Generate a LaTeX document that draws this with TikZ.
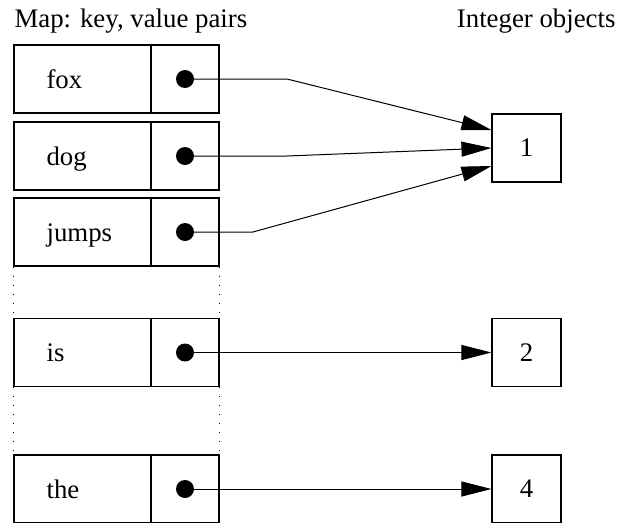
\documentclass[tikz,border=0pt]{standalone}
\usepackage{fontspec}
\setmainfont{Liberation Serif}
\usetikzlibrary{arrows.meta,calc}
\begin{document}
\begin{tikzpicture}[x=1pt,y=-1pt,line width=1.1pt,
  txt/.style={font=\fontsize{26.8}{30}\selectfont, inner sep=0pt},
  keybox/.style={draw, minimum width=137pt, minimum height=68pt, inner sep=0pt},
  valbox/.style={draw, minimum width=68pt, minimum height=68pt, inner sep=0pt},
  intbox/.style={draw, minimum width=69pt, minimum height=68pt, inner sep=0pt, txt},
  keytext/.style={txt, anchor=base west},
  ptr/.style={circle, fill, inner sep=0pt, minimum size=18pt},
  arr/.style={line width=1pt, -{Triangle[length=30pt,width=15pt]}},
  gap/.style={line width=1.3pt, dash pattern=on 1.3pt off 7.7pt}]
\useasboundingbox (0,0) rectangle (620,522);
\clip (0,0) rectangle (620,522);
% headers
\node[keytext] (hmap) at (14,27) {Map: key, value pairs};
\node[txt, anchor=base east] (hint) at (616,27) {Integer objects};
% map rows
\foreach \n/\y/\t in {fox/79/fox, dog/156/dog, jumps/232/jumps, is/352.5/is, the/489/the}{
  \node[keybox] (k\n) at (82.5,\y) {};
  \node[valbox] (v\n) at (185,\y) {};
  \node[ptr] (p\n) at (185,\y) {};
  \node[keytext] (t\n) at (46,\y+9) {\t};
}
% gaps
\draw[gap] (kjumps.south west) -- (kis.north west);
\draw[gap] (vjumps.south east) -- (vis.north east);
\draw[gap] (kis.south west) -- (kthe.north west);
\draw[gap] (vis.south east) -- (vthe.north east);
% integer objects
\node[intbox] (one) at (526.5,148) {1};
\node[intbox] (two) at (526.5,352.5) {2};
\node[intbox] (four) at (526.5,489) {4};
% bends
\coordinate (bfox) at (287,79);
\coordinate (bdog) at (287,156);
\coordinate (bjumps) at (253,232);
\draw[arr] (pfox.center) -- (bfox) -- ($(one.west)+(0,-18)$);
\draw[arr] (pdog.center) -- (bdog) -- (one.west);
\draw[arr] (pjumps.center) -- (bjumps) -- ($(one.west)+(0,18)$);
\draw[arr] (pis.center) -- (two.west);
\draw[arr] (pthe.center) -- (four.west);
\end{tikzpicture}
\end{document}
